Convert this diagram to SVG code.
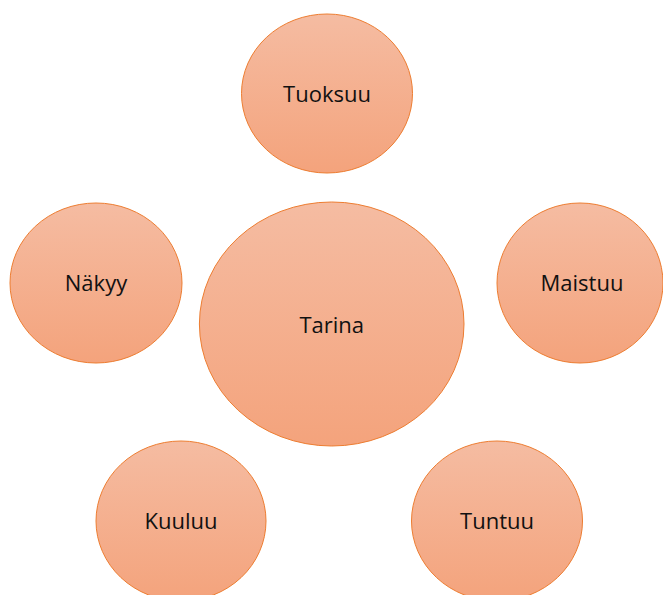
<svg xmlns="http://www.w3.org/2000/svg" width="663" height="595" viewBox="0 0 663 595">
<defs>
<linearGradient id="g" x1="0" y1="0" x2="0" y2="1">
<stop offset="0" stop-color="#F5BCA2"/>
<stop offset="1" stop-color="#F4A37C"/>
</linearGradient>
<style>
.n{fill:url(#g);stroke:#ED7D31;stroke-width:1}
.t{font-family:"Open Sans","Liberation Sans",sans-serif;font-size:22px;fill:#111;text-anchor:middle}
</style>
</defs>
<rect width="663" height="595" fill="#fff"/>
<g id="tuoksuu"><ellipse class="n" cx="327" cy="93.5" rx="85.5" ry="79.5"/><text class="t" x="327" y="102">Tuoksuu</text></g>
<g id="nakyy"><ellipse class="n" cx="96" cy="283" rx="86" ry="80"/><text class="t" x="96" y="291">Näkyy</text></g>
<g id="tarina"><ellipse class="n" cx="331.7" cy="324" rx="132.3" ry="122"/><text class="t" x="331.7" y="332.5">Tarina</text></g>
<g id="maistuu"><ellipse class="n" cx="580" cy="283" rx="83" ry="80"/><text class="t" x="582" y="291">Maistuu</text></g>
<g id="kuuluu"><ellipse class="n" cx="181" cy="521" rx="85" ry="80"/><text class="t" x="181" y="529">Kuuluu</text></g>
<g id="tuntuu"><ellipse class="n" cx="497" cy="521" rx="85.5" ry="80"/><text class="t" x="497" y="529">Tuntuu</text></g>
<g id="connectors"/>
</svg>
